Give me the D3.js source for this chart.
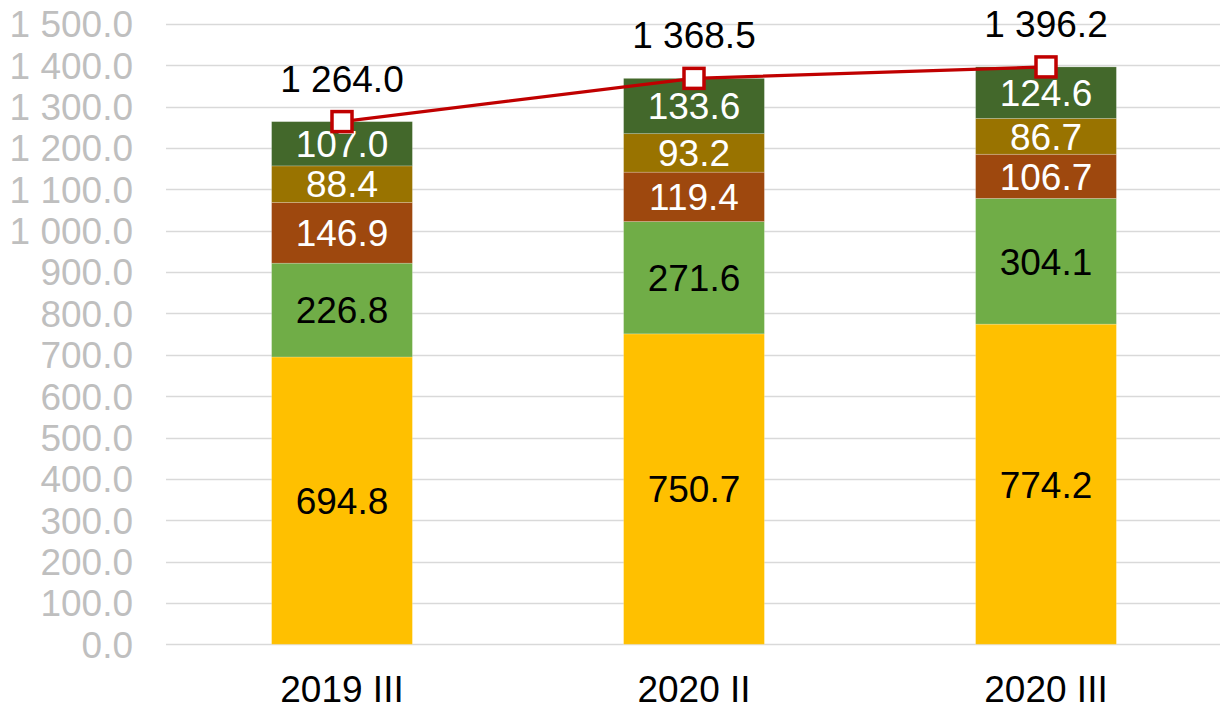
<!DOCTYPE html>
<html>
<head>
<meta charset="utf-8">
<script src="https://cdn.jsdelivr.net/npm/d3@7.9.0/dist/d3.min.js"></script>
<style>
  body { margin: 0; background: #fff; }
  text { font-family: "Liberation Sans", Arial, sans-serif; }
</style>
</head>
<body>
<svg id="chart" width="1220" height="714"></svg>
<script>
const categories = ["2019 III", "2020 II", "2020 III"];

// stacked segments, bottom to top
const seriesA = [694.8, 750.7, 774.2];
const seriesB = [226.8, 271.6, 304.1];
const seriesC = [146.9, 119.4, 106.7];
const seriesD = [88.4, 93.2, 86.7];
const seriesE = [107.0, 133.6, 124.6];

const totals = [1264.0, 1368.5, 1396.2];

const yTicks = [0, 100, 200, 300, 400, 500, 600, 700, 800, 900, 1000, 1100, 1200, 1300, 1400, 1500];

const seriesList = [
  { values: seriesA, color: "#FFC000", text: "#000" },
  { values: seriesB, color: "#70AD47", text: "#000" },
  { values: seriesC, color: "#9E480E", text: "#fff" },
  { values: seriesD, color: "#997300", text: "#fff" },
  { values: seriesE, color: "#43682B", text: "#fff" }
];

const svg = d3.select("#chart");
const area = { left: 166, right: 1222, top: 24, bottom: 644.3 };
const fontSize = 37;

const x = d3.scaleBand()
  .domain(categories)
  .range([area.left, area.right])
  .paddingInner(0.6)
  .paddingOuter(0.3);

const y = d3.scaleLinear()
  .domain([0, 1500])
  .range([area.bottom, area.top]);

const fmt = v => d3.format(",.1f")(v).replace(/,/g, " ");

// gridlines
svg.append("g")
  .selectAll("line")
  .data(yTicks)
  .join("line")
  .attr("x1", area.left)
  .attr("x2", 1220)
  .attr("y1", d => Math.round(y(d)) + 0.5)
  .attr("y2", d => Math.round(y(d)) + 0.5)
  .attr("stroke", "#D9D9D9")
  .attr("stroke-width", 1.3);

// y tick labels
svg.append("g")
  .selectAll("text")
  .data(yTicks)
  .join("text")
  .attr("x", 133)
  .attr("y", d => y(d))
  .attr("dy", "0.36em")
  .attr("text-anchor", "end")
  .attr("font-size", fontSize)
  .attr("fill", "#BFBFBF")
  .text(d => fmt(d));

// stacked bars
const stacked = seriesList.map(s => ({ ...s, segs: [] }));
categories.forEach((c, i) => {
  let base = 0;
  stacked.forEach(s => {
    s.segs.push({ cat: c, y0: base, y1: base + s.values[i], v: s.values[i] });
    base += s.values[i];
  });
});

const barG = svg.append("g");
stacked.forEach(s => {
  barG.append("g")
    .selectAll("rect")
    .data(s.segs)
    .join("rect")
    .attr("x", d => x(d.cat))
    .attr("width", x.bandwidth())
    .attr("y", d => y(d.y1))
    .attr("height", d => y(d.y0) - y(d.y1))
    .attr("fill", s.color)
    .attr("stroke", "rgba(255,255,255,0.25)")
    .attr("stroke-width", 0.8);

  barG.append("g")
    .selectAll("text")
    .data(s.segs)
    .join("text")
    .attr("x", d => x(d.cat) + x.bandwidth() / 2)
    .attr("y", d => y((d.y0 + d.y1) / 2))
    .attr("dy", "0.36em")
    .attr("text-anchor", "middle")
    .attr("font-size", fontSize)
    .attr("fill", s.text)
    .text(d => fmt(d.v));
});

// total line
const pts = categories.map((c, i) => ({ cat: c, v: totals[i] }));
const line = d3.line()
  .x(d => x(d.cat) + x.bandwidth() / 2)
  .y(d => y(d.v));

svg.append("path")
  .datum(pts)
  .attr("d", line)
  .attr("fill", "none")
  .attr("stroke", "#C00000")
  .attr("stroke-width", 3.2);

svg.append("g")
  .selectAll("rect")
  .data(pts)
  .join("rect")
  .attr("x", d => x(d.cat) + x.bandwidth() / 2 - 10)
  .attr("y", d => y(d.v) - 10)
  .attr("width", 20)
  .attr("height", 20)
  .attr("fill", "#fff")
  .attr("stroke", "#C00000")
  .attr("stroke-width", 3.5);

svg.append("g")
  .selectAll("text")
  .data(pts)
  .join("text")
  .attr("x", d => x(d.cat) + x.bandwidth() / 2)
  .attr("y", d => y(d.v) - 30)
  .attr("text-anchor", "middle")
  .attr("font-size", fontSize)
  .attr("fill", "#000")
  .text(d => fmt(d.v));

// category labels
svg.append("g")
  .selectAll("text")
  .data(categories)
  .join("text")
  .attr("x", d => x(d) + x.bandwidth() / 2)
  .attr("y", 702)
  .attr("text-anchor", "middle")
  .attr("font-size", fontSize)
  .attr("fill", "#000")
  .text(d => d);
</script>
</body>
</html>
